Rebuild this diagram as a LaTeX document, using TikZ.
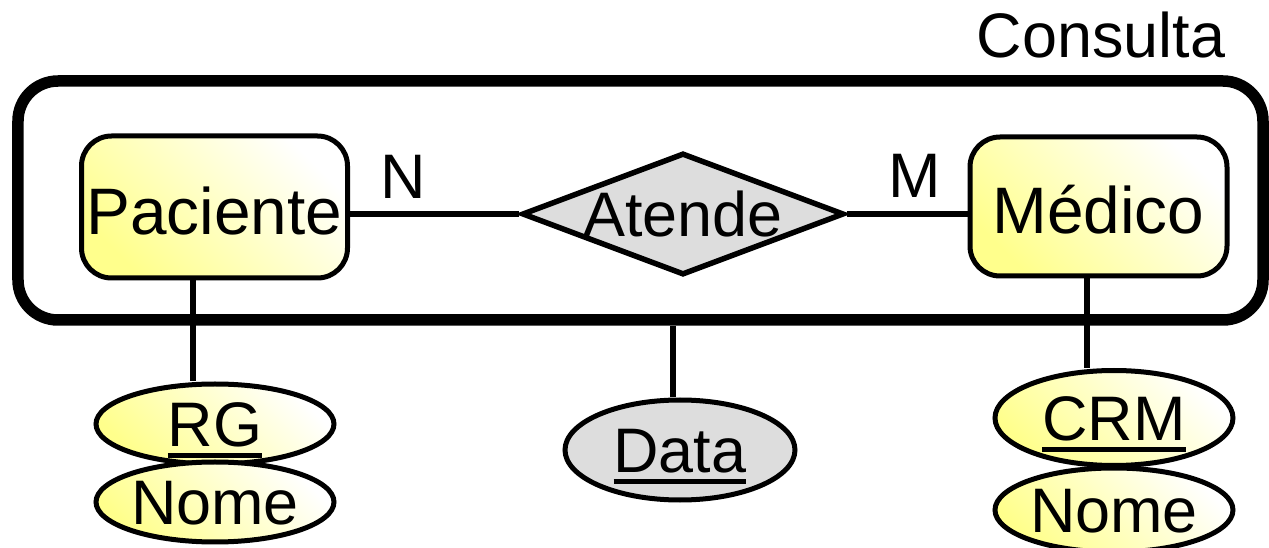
\documentclass[tikz,border=0pt]{standalone}
\usepackage{fontspec}
\setmainfont{Liberation Sans}
\usetikzlibrary{shapes.geometric}
\definecolor{cinza}{RGB}{221,221,221}
\definecolor{amarelo}{RGB}{255,255,140}
\newcommand{\chave}[1]{\setbox0=\hbox{#1}\rlap{\rule[-1.1mm]{\wd0}{0.5mm}}\box0}
\tikzset{
  entidade/.style={draw, line width=0.5mm, rounded corners=3mm, minimum width=2.66cm, minimum height=1.42cm,
    top color=white, bottom color=amarelo, shading angle=-45, font=\fontsize{18.7}{20}\selectfont, text height=0.55cm},
  relac/.style={diamond, draw, line width=0.55mm, fill=cinza, aspect=2.64, minimum width=3.22cm, minimum height=1.22cm},
  elipse/.style={ellipse, draw, line width=0.5mm, minimum width=2.38cm, minimum height=0.8cm},
  atrib/.style={elipse, top color=white, bottom color=amarelo, shading angle=-45},
  atribrel/.style={elipse, fill=cinza},
  agreg/.style={draw, line width=1.15mm, rounded corners=4mm, minimum width=12.45cm, minimum height=2.39cm},
  liga/.style={line width=0.55mm},
}

\begin{document}
\begin{tikzpicture}[font=\fontsize{17.9}{20}\selectfont,
    every node/.style={inner sep=0pt, text height=0.45cm, text depth=0pt}]
  \useasboundingbox (0,0) rectangle (12.69,5.48);
  \node[agreg] (consulta) at (6.405,3.475) {};
  \node (rotulo) at (11.01,5.125) {Consulta};
  \node[entidade] (paciente) at (2.145,3.41) {Paciente};
  \node[entidade, minimum width=2.57cm, minimum height=1.39cm] (medico) at (10.985,3.415) {Médico};
  \node[relac] (atende) at (6.83,3.34) {Atende};
  \node (n) at (4.03,3.72) {N};
  \node (m) at (9.15,3.73) {M};
  \node[atrib] (rg) at (2.15,1.24) {\chave{RG}};
  \node[atrib] (nomep) at (2.15,0.46) {Nome};
  \node[atrib, minimum height=0.95cm] (crm) at (11.14,1.30) {\chave{CRM}};
  \node[atrib, minimum height=0.84cm] (nomem) at (11.14,0.38) {Nome};
  \node[atribrel, minimum width=2.3cm, minimum height=1.0cm] (data) at (6.80,0.98) {\chave{Data}};
  \coordinate (xp) at (1.93,0);
  \coordinate (xm) at (10.87,0);
  \coordinate (xd) at (6.73,0);
  \draw[liga] (atende.west) -- (atende.west -| paciente.east);
  \draw[liga] (atende.east) -- (atende.east -| medico.west);
  \draw[liga] (paciente.south -| xp) -- (rg.north -| xp);
  \draw[liga] (medico.south -| xm) -- (crm.north -| xm);
  \draw[liga] (consulta.south -| xd) -- (data.north -| xd);
\end{tikzpicture}
\end{document}
